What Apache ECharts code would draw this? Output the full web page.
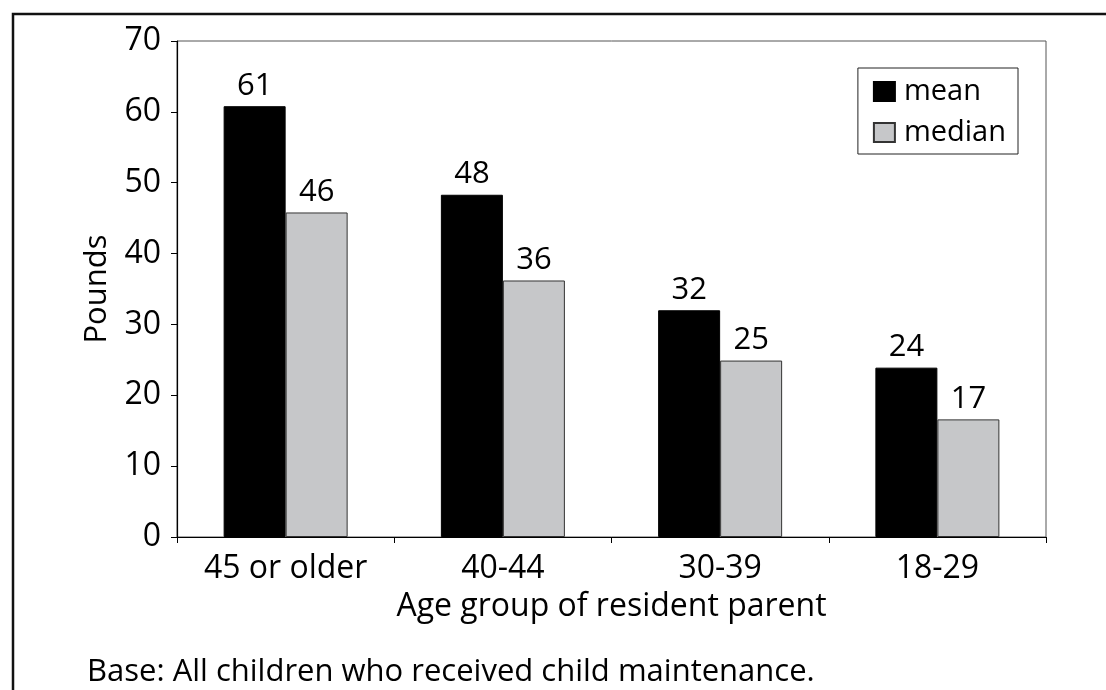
<!DOCTYPE html>
<html>
<head>
<meta charset="utf-8">
<script src="https://cdn.jsdelivr.net/npm/echarts@6/dist/echarts.min.js"></script>
<style>
  html, body { margin: 0; padding: 0; background: #fff; }
  #main { width: 1106px; height: 690px; }
</style>
</head>
<body>
<div id="main"></div>
<script>
// 数据
var categories = ['45 or older', '40-44', '30-39', '18-29'];
var meanValues = [60.8, 48.3, 32.0, 23.9];
var medianValues = [45.8, 36.2, 24.9, 16.6];
var yTicks = [0, 10, 20, 30, 40, 50, 60, 70];

var FONT = '"Open Sans", "Noto Sans", sans-serif';

var chart = echarts.init(document.getElementById('main'), null, { renderer: 'canvas' });

//柱顶数值标签
function barLabel() {
  return {
    show: true,
    position: 'top',
    distance: 5,
    color: '#000',
    fontFamily: FONT,
    fontSize: 31,
    formatter: function (p) { return Math.round(p.value); }
  };
}

var option = {
  backgroundColor: '#fff',
  animation: false,
  textStyle: { fontFamily: FONT },
  grid: {
    left: 177, right: 60, top: 41, bottom: 153,
    show: true, borderColor: '#555', borderWidth: 1, backgroundColor: 'transparent'
  },
  legend: {
    orient: 'vertical',
    right: 88, top: 68,
    padding: [9, 12, 7, 15],
    borderColor: '#222', borderWidth: 1,
    itemWidth: 21, itemHeight: 19, itemGap: 12,
    icon: 'rect',
    textStyle: { fontFamily: FONT, fontSize: 29, color: '#000', padding: [0, 0, 0, 4] },
    data: ['mean', 'median']
  },
  xAxis: {
    type: 'category',
    data: categories,
    name: 'Age group of resident parent',
    nameLocation: 'middle',
    nameGap: 54,
    nameTextStyle: { fontFamily: FONT, fontSize: 32, color: '#000' },
    axisLine: { lineStyle: { color: '#000', width: 1.2 } },
    axisTick: { show: true, length: 6, lineStyle: { color: '#000' } },
    axisLabel: { fontFamily: FONT, fontSize: 32, color: '#000', margin: 16 },
    splitLine: { show: false }
  },
  yAxis: {
    type: 'value',
    min: yTicks[0], max: yTicks[yTicks.length - 1], interval: 10,
    name: 'Pounds',
    nameLocation: 'middle',
    nameGap: 64,
    nameTextStyle: { fontFamily: FONT, fontSize: 31, color: '#000' },
    axisLine: { show: true, lineStyle: { color: '#000', width: 1.2 } },
    axisTick: { show: true, length: 6, lineStyle: { color: '#000' } },
    axisLabel: { fontFamily: FONT, fontSize: 32, color: '#000', margin: 16 },
    splitLine: { show: false }
  },
  series: [
    {
      name: 'mean', type: 'bar', data: meanValues,
      barWidth: 62, barGap: '0%',
      itemStyle: { color: '#000', borderColor: '#000', borderWidth: 1 },
      label: barLabel()
    },
    {
      name: 'median', type: 'bar', data: medianValues,
      barWidth: 62, barGap: '0%',
      itemStyle: { color: '#c6c7c9', borderColor: '#333', borderWidth: 1 },
      label: barLabel()
    }
  ],
  graphic: [
    {
      type: 'polyline', silent: true,
      shape: { points: [[13, 690], [13, 14], [1106, 14]] },
      style: { stroke: '#111', lineWidth: 2.5, fill: null }
    },
    {
      type: 'text', left: 87, top: 657, silent: true,
      style: { text: 'Base: All children who received child maintenance.', font: '31px ' + FONT, fill: '#000' }
    }
  ]
};

chart.setOption(option);
</script>
</body>
</html>
